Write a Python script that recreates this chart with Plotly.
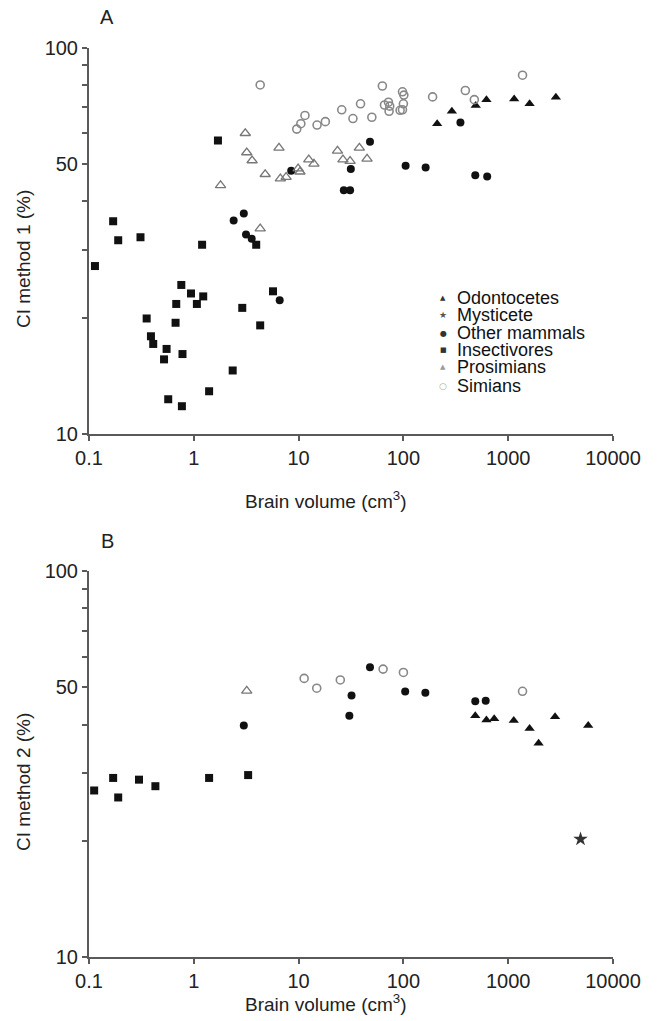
import plotly.graph_objects as go

# ---------------- Panel A: CI method 1 ----------------
a_odon_x = [210, 290, 490, 620, 1140, 1600, 2850]
a_odon_y = [63.5, 68.4, 70.8, 73.3, 73.6, 71.5, 74.3]

a_other_x = [8.5, 31.5, 27, 31, 48, 105, 163, 485, 630, 350, 2.4, 3.0, 3.15, 3.57, 6.6]
a_other_y = [48.0, 48.5, 42.7, 42.7, 57.0, 49.4, 48.9, 46.7, 46.4, 64.0, 35.7, 37.2, 32.8, 32.0, 22.2]

a_insect_x = [0.114, 0.17, 0.19, 0.31, 1.2, 1.7, 0.76, 0.94, 1.23, 1.07, 0.68, 0.355, 0.67,
              0.39, 0.41, 0.55, 0.78, 0.52, 2.35, 1.4, 0.57, 0.77, 5.7, 2.9, 4.3, 3.94]
a_insect_y = [27.2, 35.5, 31.7, 32.3, 30.9, 57.5, 24.3, 23.1, 22.7, 21.7, 21.7, 19.9, 19.4,
              17.9, 17.1, 16.6, 16.1, 15.6, 14.6, 12.9, 12.3, 11.8, 23.4, 21.2, 19.1, 30.9]

a_prosim_x = [1.8, 3.1, 3.2, 3.6, 4.8, 6.7, 7.6, 6.5, 9.9, 10.3, 12.5, 14, 23.5, 26.5, 31, 38, 45, 4.3]
a_prosim_y = [44.0, 60.0, 53.5, 51.0, 47.0, 45.8, 46.2, 55.0, 48.6, 47.7, 51.3, 50.0, 54.0, 51.3,
              50.8, 55.0, 51.5, 34.0]

a_simian_x = [4.3, 9.6, 10.5, 11.5, 15, 18, 25.8, 33, 39, 50, 63, 98, 101, 66, 72, 74, 73,
              100, 98, 93, 190, 390, 475, 1370]
a_simian_y = [80.0, 61.5, 63.5, 66.7, 63.0, 64.3, 69.0, 65.5, 71.5, 66.0, 79.5, 76.8, 75.3,
              71.0, 72.2, 70.5, 68.4, 71.5, 69.0, 68.8, 74.5, 77.4, 73.3, 84.8]

# ---------------- Panel B: CI method 2 ----------------
b_odon_x = [485, 620, 735, 1130, 1600, 1950, 2800, 5800]
b_odon_y = [42.2, 41.1, 41.4, 41.0, 39.1, 35.8, 41.9, 39.8]

b_myst_x = [4900]
b_myst_y = [20.2]

b_other_x = [3.0, 32, 30.5, 48, 104, 162, 485, 610]
b_other_y = [39.8, 47.6, 42.2, 56.3, 48.7, 48.4, 46.0, 46.1]

b_insect_x = [0.112, 0.17, 0.19, 0.30, 0.43, 1.4, 3.3]
b_insect_y = [27.0, 29.1, 25.9, 28.8, 27.7, 29.1, 29.6]

b_prosim_x = [3.2]
b_prosim_y = [48.9]

b_simian_x = [11.3, 14.9, 25, 64, 100, 1370]
b_simian_y = [52.7, 49.7, 52.2, 55.7, 54.6, 48.8]

# ---------------- Axis ticks ----------------
x_tickvals = [0.1, 1, 10, 100, 1000, 10000]
x_ticktext = ["0.1", "1", "10", "100", "1000", "10000"]
y_tickvals = [10, 50, 100]
y_ticktext = ["10", "50", "100"]
y_minor_vals = [20, 30, 40, 60, 70, 80, 90]

legend_names = ["Odontocetes", "Mysticete", "Other mammals", "Insectivores", "Prosimians", "Simians"]

STYLES = {
    "Odontocetes": dict(symbol="triangle-up", size=9, color="#111111"),
    "Mysticete": dict(symbol="star", size=11, color="#333333"),
    "Other mammals": dict(symbol="circle", size=8, color="#111111"),
    "Insectivores": dict(symbol="square", size=8, color="#111111"),
    "Prosimians": dict(symbol="triangle-up-open", size=9, color="#777777", line=dict(width=1.3, color="#777777")),
    "Simians": dict(symbol="circle-open", size=8, color="#888888", line=dict(width=1.6, color="#888888")),
}

W, H = 658, 1021
ML, MR, MT, MB = 89, 45, 47, 64
PW, PH = W - ML - MR, H - MT - MB


def px_x(px):
    return (px - ML) / PW


def px_y(py):
    return 1 - (py - MT) / PH


fig = go.Figure()

panel_a = [
    ("Odontocetes", a_odon_x, a_odon_y),
    ("Other mammals", a_other_x, a_other_y),
    ("Insectivores", a_insect_x, a_insect_y),
    ("Prosimians", a_prosim_x, a_prosim_y),
    ("Simians", a_simian_x, a_simian_y),
]
panel_b = [
    ("Odontocetes", b_odon_x, b_odon_y),
    ("Mysticete", b_myst_x, b_myst_y),
    ("Other mammals", b_other_x, b_other_y),
    ("Insectivores", b_insect_x, b_insect_y),
    ("Prosimians", b_prosim_x, b_prosim_y),
    ("Simians", b_simian_x, b_simian_y),
]

for name, xs, ys in panel_a:
    fig.add_trace(go.Scatter(x=xs, y=ys, mode="markers", name=name, showlegend=False,
                             marker=STYLES[name], xaxis="x", yaxis="y"))
for name, xs, ys in panel_b:
    fig.add_trace(go.Scatter(x=xs, y=ys, mode="markers", name=name, showlegend=False,
                             marker=STYLES[name], xaxis="x2", yaxis="y2"))

tick_font = dict(family="Liberation Sans, Arial, sans-serif", size=20, color="#222222")
axis_common = dict(showline=True, linecolor="#5a5a5a", linewidth=2, showgrid=False, zeroline=False,
                   ticks="outside", ticklen=5, tickwidth=1.5, tickcolor="#5a5a5a", tickfont=tick_font)

xa = dict(type="log", range=[-1, 4], tickmode="array", tickvals=x_tickvals, ticktext=x_ticktext,
          **axis_common)
ya = dict(type="log", range=[1, 2], tickmode="array", tickvals=y_tickvals, ticktext=y_ticktext,
          minor=dict(tickmode="array", tickvals=y_minor_vals, ticks="outside", ticklen=5,
                     tickwidth=1.5, tickcolor="#5a5a5a", showgrid=False),
          **axis_common)

fig.update_layout(
    width=W, height=H,
    margin=dict(l=ML, r=MR, t=MT, b=MB),
    paper_bgcolor="white", plot_bgcolor="white",
    font=dict(family="Liberation Sans, Arial, sans-serif", color="#222222"),
    xaxis=dict(domain=[0, 1], anchor="y", **xa),
    yaxis=dict(domain=[px_y(434), px_y(47.5)], anchor="x", **ya),
    xaxis2=dict(domain=[0, 1], anchor="y2", **xa),
    yaxis2=dict(domain=[0, px_y(571)], anchor="x2", **ya),
    showlegend=False,
)

title_font = dict(family="Liberation Sans, Arial, sans-serif", size=19, color="#222222")
annotations = []
# Panel letters
for letter, py in (("A", 17), ("B", 541)):
    annotations.append(dict(text=letter, x=px_x(107), y=px_y(py), xref="paper", yref="paper",
                            showarrow=False, xanchor="center", yanchor="middle",
                            font=dict(family="Liberation Sans, Arial, sans-serif", size=20, color="#222222")))
# Axis titles
for label, py in (("CI method 1 (%)", 259), ("CI method 2 (%)", 782)):
    annotations.append(dict(text=label, x=px_x(23), y=px_y(py), xref="paper", yref="paper",
                            showarrow=False, textangle=-90, xanchor="center", yanchor="middle",
                            font=title_font))
for py in (500, 1003):
    annotations.append(dict(text="Brain volume (cm<sup>3</sup>)", x=px_x(326), y=px_y(py),
                            xref="paper", yref="paper", showarrow=False,
                            xanchor="center", yanchor="middle", font=title_font))

# Legend inside panel A
legend_glyphs = {
    "Odontocetes": ("▲", "#333333", 7),
    "Mysticete": ("★", "#555555", 9),
    "Other mammals": ("●", "#333333", 8),
    "Insectivores": ("■", "#333333", 7),
    "Prosimians": ("▲", "#9a9a9a", 7),
    "Simians": ("○", "#aaaaaa", 9),
}
legend_rows = [298, 315, 333, 350, 367, 386]
for name, py in zip(legend_names, legend_rows):
    glyph, gcol, gsize = legend_glyphs[name]
    annotations.append(dict(text=glyph, x=px_x(443), y=px_y(py), xref="paper", yref="paper",
                            showarrow=False, xanchor="center", yanchor="middle",
                            font=dict(family="DejaVu Sans", size=gsize, color=gcol)))
    annotations.append(dict(text=name, x=px_x(455), y=px_y(py), xref="paper", yref="paper",
                            showarrow=False, xanchor="left", yanchor="middle",
                            font=dict(family="Liberation Sans, Arial, sans-serif", size=18, color="#111111")))

fig.update_layout(annotations=annotations)

fig.write_html("out.html")
